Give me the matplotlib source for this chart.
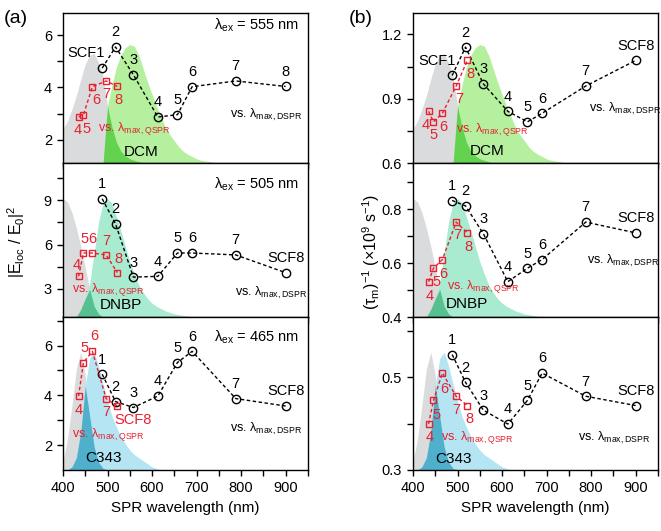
import numpy as np
import matplotlib
matplotlib.use('Agg')
import matplotlib.pyplot as plt
from matplotlib.ticker import MultipleLocator, FixedLocator

plt.rcParams['font.family'] = ['Liberation Sans', 'DejaVu Sans']
plt.rcParams['mathtext.fontset'] = 'custom'
plt.rcParams['mathtext.rm'] = 'Liberation Sans'
plt.rcParams['mathtext.it'] = 'Liberation Sans:italic'
plt.rcParams['mathtext.bf'] = 'Liberation Sans:bold'

# SPR peak wavelengths (nm)
dspr_wl = [488, 518, 558, 613, 657, 690, 788, 900]   # SCF1..SCF8, dipolar
qspr_wl = [435, 446, 466, 497, 522]                  # SCF4..SCF8, quadrupolar

# |Eloc/E0|^2 at the three excitation wavelengths
e_555 = [4.74, 5.55, 4.49, 2.87, 2.96, 4.03, 4.25, 4.04]
e_505 = [9.1, 7.4, 3.8, 3.85, 5.43, 5.43, 5.3, 4.1]
e_465 = [4.85, 3.75, 3.51, 3.97, 5.32, 5.77, 3.87, 3.57]

# (tau_m)^-1 (x1e9 s^-1)
k_dcm = [1.009, 1.141, 0.97, 0.842, 0.793, 0.833, 0.96, 1.079]
k_dnbp = [0.832, 0.812, 0.709, 0.531, 0.581, 0.613, 0.752, 0.712]
k_c343 = [0.549, 0.489, 0.429, 0.399, 0.45, 0.509, 0.459, 0.439]

# spectra (relative), sampled every 10 nm from 400 to 760 nm
spec_wl = np.arange(400, 770, 10)
gray_dcm = [.23, .28, .36, .45, .56, .66, .72, .73, .67, .58, .38, .24, .14, .08,
            .05, .03, .02, .01] + [0] * 19
dcm = [0] * 10 + [.38, .52, .64, .72, .77, .79, .78, .72, .63, .54, .46, .38, .31,
                  .24, .19, .15, .11, .08, .06, .045, .03, .02, .015, .01, .005, 0, 0]
gray_dnbp = [.77, .75, .68, .58, .46, .32, .18, .07, .02] + [0] * 28
dnbp = [0, 0, 0, 0, .05, .12, .22, .42, .62, .74, .77, .74, .65, .56, .46, .36, .28,
        .21, .16, .12, .09, .07, .055, .04, .03, .02, .015, .01, .005] + [0] * 8
gray_c343 = [.06, .2, .42, .66, .77, .62, .35, .15, .05, .01] + [0] * 27
c343 = [0, 0, .02, .08, .25, .55, .73, .77, .68, .56, .45, .35, .28, .22, .17, .13,
        .10, .08, .06, .04, .02, .01] + [0] * 15

red = '#e8202f'
dyes = [
    ('DCM', gray_dcm, dcm, '#b4f09e', '#62d24f'),
    ('DNBP', gray_dnbp, dnbp, '#a9ebd0', '#57c08f'),
    ('C343', gray_c343, c343, '#b5e5f3', '#4fb0cc'),
]

fig = plt.figure(figsize=(6.61, 5.31), dpi=100)
lefts = [0.0953, 0.6248]
bottoms = [0.6925, 0.403, 0.115]
heights = [0.283, 0.2895, 0.288]

left_vals = [e_555, e_505, e_465]
right_vals = [k_dcm, k_dnbp, k_c343]
left_ylim = [(1.1, 6.85), (1.1, 11.5), (1.0, 7.15)]
right_ylim = [(0.6, 1.3), (0.4, 0.97), (0.3, 0.63)]
left_major = [[2, 4, 6], [3, 6, 9], [2, 4, 6]]
left_minor = [[3, 5], [4.5, 7.5, 10.5], [3, 5, 7]]
right_major = [[0.6, 0.9, 1.2], [0.4, 0.6, 0.8], [0.3, 0.5]]
right_minor = [[0.75, 1.05], [0.5, 0.7, 0.9], [0.4, 0.6]]
lam_ex = [555, 505, 465]

black_names = ['1', '2', '3', '4', '5', '6', '7', 'SCF8']
red_names = ['4', '5', '6', '7', '8']

# label offsets (points) for the red QSPR numbers, per panel
red_off_left = [
    [(-1, -9), (2, -10), (3, -9.5), (0, -9.5), (1, -9.5)],
    [(-1.5, 8.5), (1, 10.3), (0, 10.3), (0, 10.3), (1, 10)],
    [(0, -10.3), (1, 10.3), (1.5, 10.8), (0, -10), (0, -10)],
]
red_off_right = [
    [(-2, -10), (0, -9.4), (0.5, -9.9), (2, -9.1), (2, -9.4)],
    [(0.5, -10), (2, -9.9), (0.7, -10.6), (0.7, -9.1), (0.7, -10)],
    [(0.5, -9.4), (2.4, -10.6), (1.5, -11.5), (0, -9.6), (1.5, -10)],
]

# text positions (data coords)
qspr_txt_left = [(478, 2.45), (420, 2.95), (420, 2.41)]
dspr_txt_left = [(774, 2.95), (786, 2.7), (774, 2.65)]
dye_txt_left = [(576, 1.55), (531, 1.94), (490, 1.48)]
lamex_y = [6.38, 10.06, 6.34]
qspr_txt_right = [(496, 0.756), (476, 0.512), (464, 0.371)]
dspr_txt_right = [(795, 0.855), (791, 0.608), (771, 0.369)]
dye_txt_right = [(566, 0.658), (520, 0.449), (491, 0.324)]

for col in range(2):
    for row in range(3):
        ax = fig.add_axes([lefts[col], bottoms[row], 0.3705, heights[row]])
        name, gray, dye, light, dark = dyes[row]
        tr = ax.get_xaxis_transform()
        ax.fill_between(spec_wl, 0, gray, color='#dadbdc', lw=0, transform=tr, zorder=1)
        ax.fill_between(spec_wl, 0, dye, color=light, lw=0, transform=tr, zorder=1.1)
        ax.fill_between(spec_wl, 0, np.minimum(gray, dye), color=dark, lw=0,
                        transform=tr, zorder=1.2)

        vals = left_vals[row] if col == 0 else right_vals[row]
        ax.plot(dspr_wl, vals, color='k', lw=1, ls=(0, (2.5, 1.8)), marker='o',
                ms=6, mfc='none', mec='k', mew=1, zorder=3)
        ax.plot(qspr_wl, vals[3:], color=red, lw=1, ls=(0, (2.5, 1.8)), marker='s',
                ms=5, mfc='none', mec=red, mew=1, zorder=3)

        # black labels
        for i, nm in enumerate(black_names):
            if row == 0 and i == 0:
                continue
            txt = nm
            if row == 0 and col == 0 and nm == 'SCF8':
                txt = '8'
            ax.annotate(txt, (dspr_wl[i], vals[i]), xytext=(0, 10.5),
                        textcoords='offset points', ha='center', va='center',
                        fontsize=10.5, zorder=4)
        if row == 0:
            ax.text(455 if col else 452, 1.077 if col else 5.33, 'SCF1',
                    ha='center', va='center', fontsize=10.5, zorder=4)

        # red labels
        offs = red_off_left[row] if col == 0 else red_off_right[row]
        for i, nm in enumerate(red_names):
            txt = nm
            ha = 'center'
            dx, dy = offs[i]
            if col == 0 and row == 2 and nm == '8':
                txt, ha, dx = 'SCF8', 'left', -2
            ax.annotate(txt, (qspr_wl[i], vals[3 + i]), xytext=(dx, dy),
                        textcoords='offset points', ha=ha, va='center',
                        fontsize=10.5, color=red, zorder=4)

        if col == 0:
            qx, qy = qspr_txt_left[row]
            dx_, dy_ = dspr_txt_left[row]
            tx, ty = dye_txt_left[row]
            ax.text(930, lamex_y[row], 'λ$_{\\rm ex}$ = %d nm' % lam_ex[row],
                    ha='right', va='center', fontsize=10.5)
        else:
            qx, qy = qspr_txt_right[row]
            dx_, dy_ = dspr_txt_right[row]
            tx, ty = dye_txt_right[row]
        ax.text(qx, qy, 'vs. λ$_{\\rm max,QSPR}$', color=red, ha='left',
                va='center', fontsize=9, zorder=4)
        ax.text(dx_, dy_, 'vs. λ$_{\\rm max,DSPR}$', color='k', ha='left',
                va='center', fontsize=9, zorder=4)
        ax.text(tx, ty, name, ha='center', va='center', fontsize=11, zorder=4)

        ax.set_xlim(400, 950)
        ax.set_ylim(left_ylim[row] if col == 0 else right_ylim[row])
        ax.xaxis.set_major_locator(MultipleLocator(100))
        ax.xaxis.set_minor_locator(MultipleLocator(50))
        if col == 0:
            ax.yaxis.set_major_locator(FixedLocator(left_major[row]))
            ax.yaxis.set_minor_locator(FixedLocator(left_minor[row]))
        else:
            ax.yaxis.set_major_locator(FixedLocator(right_major[row]))
            ax.yaxis.set_minor_locator(FixedLocator(right_minor[row]))
        ax.tick_params(which='both', direction='out', top=False, right=False,
                       width=1, labelsize=10.5)
        ax.tick_params(which='major', length=4.5)
        ax.tick_params(which='minor', length=4.5)
        for s in ax.spines.values():
            s.set_linewidth(1)
        if row < 2:
            ax.tick_params(labelbottom=False)
        else:
            ax.set_xlabel('SPR wavelength (nm)', fontsize=11)

fig.text(0.024, 0.545, '|E$_{\\rm loc}$ / E$_{\\rm 0}$|$^2$', rotation=90,
         ha='center', va='center', fontsize=11.5)
fig.text(0.562, 0.525, '(τ$_{\\rm m}$)$^{-1}$ (×10$^9$ s$^{-1}$)', rotation=90,
         ha='center', va='center', fontsize=11.5)
fig.text(0.005, 0.965, '(a)', fontsize=14, va='center')
fig.text(0.528, 0.965, '(b)', fontsize=14, va='center')

fig.savefig('out.png', dpi=100)
